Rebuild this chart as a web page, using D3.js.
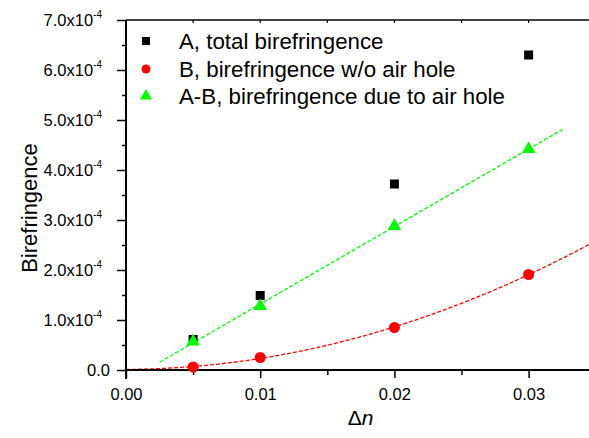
<!DOCTYPE html>
<html>
<head>
<meta charset="utf-8">
<script src="https://cdn.jsdelivr.net/npm/d3@7"></script>
<style>
  body { margin: 0; background: #fff; }
  text { font-family: "Liberation Sans", Arial, sans-serif; fill: #000; }
</style>
</head>
<body>
<div id="chart"></div>
<script>
// data
var deltaN = [0.005, 0.01, 0.02, 0.03]
var totalBiref = [6.1e-5, 1.49e-4, 3.72e-4, 6.30e-4]     // A
var noHoleBiref = [6e-6, 2.5e-5, 8.5e-5, 1.91e-4]         // B
var holeBiref = [5.7e-5, 1.28e-4, 2.88e-4, 4.42e-4]       // A-B
var legendLabels = ["A, total birefringence", "B, birefringence w/o air hole", "A-B, birefringence due to air hole"]
var xTicks = [0, 0.01, 0.02, 0.03]
var yTicks = [0, 1e-4, 2e-4, 3e-4, 4e-4, 5e-4, 6e-4, 7e-4]
var greenFitRange = [0.0025, 0.0325]
var redFitRange = [0, 0.0345]

var width = 589,
    height = 438
var margin = { top: 20, right: 0, bottom: 68, left: 126 }

var svg = d3.select("#chart")
    .append("svg")
    .attr("width", width)
    .attr("height", height)

var x = d3.scaleLinear()
    .domain([0, 0.0345])
    .range([margin.left, width - margin.right])

var y = d3.scaleLinear()
    .domain([0, 7e-4])
    .range([height - margin.bottom, margin.top])

// least squares fits (linear for A-B, quadratic for B)
function linFit(xs, ys) {
    var mx = d3.mean(xs), my = d3.mean(ys)
    var sxy = d3.sum(xs, (v, i) => (v - mx) * (ys[i] - my))
    var sxx = d3.sum(xs, v => (v - mx) * (v - mx))
    var b = sxy / sxx
    return v => my + b * (v - mx)
}
function quadFit(xs, ys) {
    // normal equations for a + b x + c x^2
    var S = [0, 0, 0, 0, 0], T = [0, 0, 0]
    xs.forEach(function (v, i) {
        for (var k = 0; k < 5; k++) S[k] += Math.pow(v, k)
        for (var k = 0; k < 3; k++) T[k] += ys[i] * Math.pow(v, k)
    })
    var M = [[S[0], S[1], S[2], T[0]], [S[1], S[2], S[3], T[1]], [S[2], S[3], S[4], T[2]]]
    for (var i = 0; i < 3; i++) {
        for (var j = i + 1; j < 3; j++) {
            var f = M[j][i] / M[i][i]
            for (var k = i; k < 4; k++) M[j][k] -= f * M[i][k]
        }
    }
    var c = [0, 0, 0]
    for (var i = 2; i >= 0; i--) {
        var s = M[i][3]
        for (var k = i + 1; k < 3; k++) s -= M[i][k] * c[k]
        c[i] = s / M[i][i]
    }
    return v => c[0] + c[1] * v + c[2] * v * v
}

var clip = svg.append("clipPath").attr("id", "plotclip")
    .append("rect")
    .attr("x", margin.left).attr("y", margin.top)
    .attr("width", width - margin.left).attr("height", height - margin.bottom - margin.top)

var line = d3.line().x(d => x(d[0])).y(d => y(d[1]))

var greenFn = linFit(deltaN, holeBiref)
var redFn = quadFit(deltaN, noHoleBiref)

var plot = svg.append("g").attr("clip-path", "url(#plotclip)")

plot.append("path")
    .datum(d3.range(0, 101).map(i => {
        var v = greenFitRange[0] + (greenFitRange[1] - greenFitRange[0]) * i / 100
        return [v, greenFn(v)]
    }))
    .attr("d", line)
    .attr("fill", "none")
    .attr("stroke", "#00ff00")
    .attr("stroke-width", 1.3)
    .attr("stroke-dasharray", "4,2")

plot.append("path")
    .datum(d3.range(0, 101).map(i => {
        var v = redFitRange[0] + (redFitRange[1] - redFitRange[0]) * i / 100
        return [v, Math.max(0, redFn(v))]
    }))
    .attr("d", line)
    .attr("fill", "none")
    .attr("stroke", "#ff0000")
    .attr("stroke-width", 1.3)
    .attr("stroke-dasharray", "4,2")

// axes
var frame = svg.append("g").attr("stroke", "#000").attr("fill", "none")

frame.append("line")
    .attr("x1", margin.left).attr("x2", width)
    .attr("y1", margin.top).attr("y2", margin.top)
    .attr("stroke-width", 1.5)

// top minor ticks
d3.range(0.005, 0.0345, 0.005).forEach(function (t) {
    frame.append("line")
        .attr("x1", x(t)).attr("x2", x(t))
        .attr("y1", margin.top).attr("y2", margin.top + 3)
        .attr("stroke-width", 1.2)
})

var xAxis = d3.axisBottom(x)
    .tickValues(xTicks)
    .tickSize(8)
    .tickFormat(d3.format(".2f"))

var gx = svg.append("g")
    .attr("transform", "translate(0," + y(0) + ")")
    .call(xAxis)
gx.select(".domain").attr("stroke-width", 2).attr("d", "M" + margin.left + ",0H" + width)
gx.selectAll(".tick line").attr("stroke-width", 1.5)
gx.selectAll(".tick text")
    .attr("y", 30)
    .attr("dy", 0)
    .style("font-size", "16.5px")
    .style("font-family", "Liberation Sans, Arial, sans-serif")

var gxMinor = svg.append("g")
    .attr("transform", "translate(0," + y(0) + ")")
    .call(d3.axisBottom(x).tickValues([0.005, 0.015, 0.025]).tickSize(5).tickFormat(""))
gxMinor.select(".domain").remove()
gxMinor.selectAll(".tick line").attr("stroke-width", 1.5)

var yAxis = d3.axisLeft(y)
    .tickValues(yTicks)
    .tickSize(9)
    .tickFormat("")

var gy = svg.append("g")
    .attr("transform", "translate(" + margin.left + ",0)")
    .call(yAxis)
gy.select(".domain").attr("stroke-width", 2)
    .attr("d", "M0," + margin.top + "V" + (y(0) + 9))
gy.selectAll(".tick line").attr("stroke-width", 1.5)

var gyMinor = svg.append("g")
    .attr("transform", "translate(" + margin.left + ",0)")
    .call(d3.axisLeft(y).tickValues(d3.range(0.5e-4, 7e-4, 1e-4)).tickSize(4).tickFormat(""))
gyMinor.select(".domain").remove()
gyMinor.selectAll(".tick line").attr("stroke-width", 1.5)

// y tick labels with superscript exponent
yTicks.forEach(function (t) {
    var txt = svg.append("text")
        .attr("y", y(t) + 6)
        .attr("text-anchor", "end")
        .style("font-size", "16.5px")
    if (t === 0) {
        txt.attr("x", 110).text("0.0")
    } else {
        txt.attr("x", 102)
        txt.append("tspan").text((t * 1e4).toFixed(1) + "x10")
        txt.append("tspan")
            .attr("dy", -8)
            .style("font-size", "10px")
            .text("-4")
    }
})

// axis titles
svg.append("text")
    .attr("transform", "translate(37," + 208 + ") rotate(-90)")
    .attr("text-anchor", "middle")
    .style("font-size", "22px")
    .text("Birefringence")

var xt = svg.append("text")
    .attr("x", (margin.left + width) / 2 + 3)
    .attr("y", 425)
    .attr("text-anchor", "middle")
    .style("font-size", "21px")
xt.append("tspan").text("\u0394")
xt.append("tspan").style("font-style", "italic").text("n")

// markers
var sqr = d3.symbol().type(d3.symbolSquare).size(81)
var tri = d3.symbol().type(d3.symbolTriangle).size(80)

svg.selectAll("pointsA")
    .data(deltaN)
    .enter()
    .append("path")
    .attr("d", sqr)
    .attr("transform", (d, i) => "translate(" + x(d) + "," + y(totalBiref[i]) + ")")
    .attr("fill", "#000")

svg.selectAll("pointsB")
    .data(deltaN)
    .enter()
    .append("circle")
    .attr("cx", d => x(d))
    .attr("cy", (d, i) => y(noHoleBiref[i]))
    .attr("r", 5.5)
    .attr("fill", "#ff0000")

svg.selectAll("pointsAB")
    .data(deltaN)
    .enter()
    .append("path")
    .attr("d", tri)
    .attr("transform", (d, i) => "translate(" + x(d) + "," + y(holeBiref[i]) + ")")
    .attr("fill", "#00ff00")

// legend
var legend = svg.append("g")
var rowY = [41, 69, 96]
legend.append("path").attr("d", d3.symbol().type(d3.symbolSquare).size(64))
    .attr("transform", "translate(146," + rowY[0] + ")").attr("fill", "#000")
legend.append("circle").attr("cx", 146).attr("cy", rowY[1]).attr("r", 4.5).attr("fill", "#ff0000")
legend.append("path").attr("d", d3.symbol().type(d3.symbolTriangle).size(64))
    .attr("transform", "translate(146," + rowY[2] + ")").attr("fill", "#00ff00")

legend.selectAll("legendText")
    .data(legendLabels)
    .enter()
    .append("text")
    .attr("x", 179)
    .attr("y", (d, i) => rowY[i] + 8)
    .style("font-size", "22.3px")
    .text(d => d)
</script>
</body>
</html>
